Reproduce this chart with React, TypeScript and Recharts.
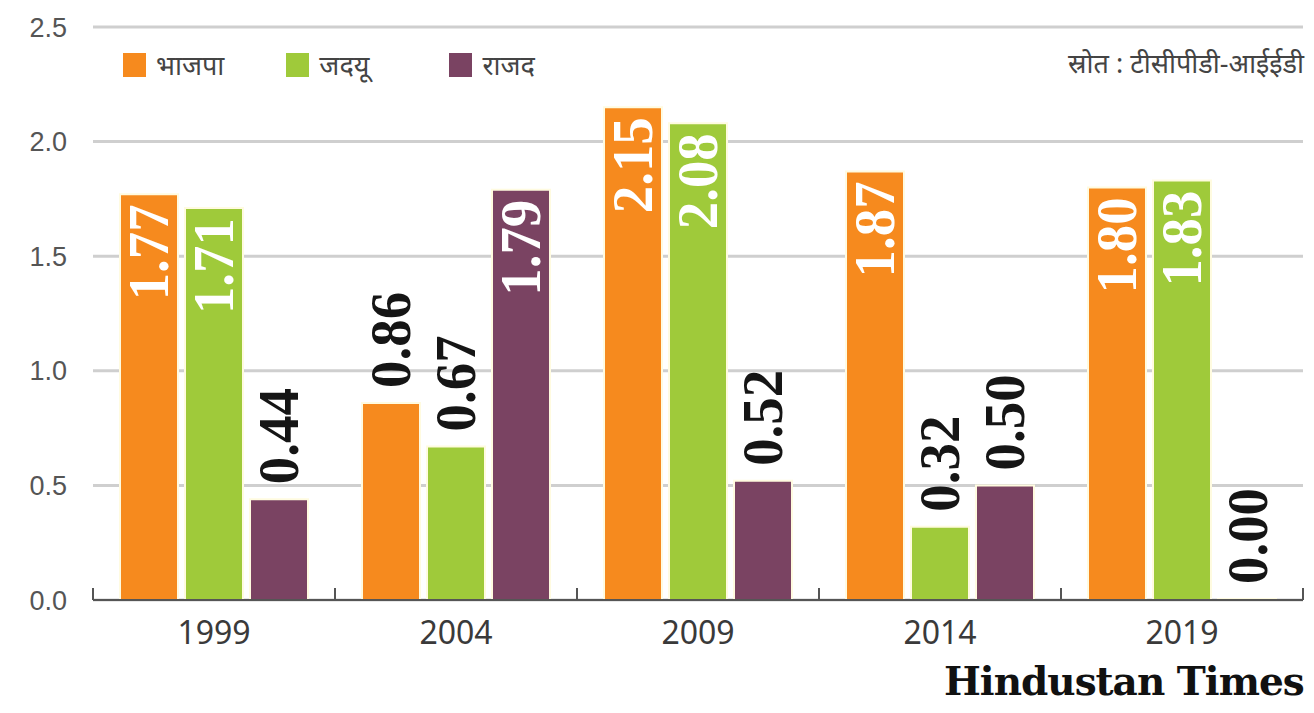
import React from "react";
import { Bar, BarChart, CartesianGrid, LabelList, XAxis, YAxis } from "recharts";

const years = ["1999", "2004", "2009", "2014", "2019"];
const bjp = [1.77, 0.86, 2.15, 1.87, 1.8];
const jdu = [1.71, 0.67, 2.08, 0.32, 1.83];
const rjd = [0.44, 1.79, 0.52, 0.5, 0.0];
const yTicks = [0, 0.5, 1.0, 1.5, 2.0, 2.5];

const parties = [
  { key: "bjp", name: "भाजपा", color: "#F68A1E" },
  { key: "jdu", name: "जदयू", color: "#9FCA3A" },
  { key: "rjd", name: "राजद", color: "#7A4362" }
];

const data = years.map((year, i) => ({ year, bjp: bjp[i], jdu: jdu[i], rjd: rjd[i] }));

const devFont = "'Noto Sans', 'Noto Sans Devanagari', 'Lohit Devanagari', sans-serif";

function YearTick(props: any) {
  const { x, y, payload, index } = props;
  const half = payload && typeof payload.offset === "number" && payload.offset > 0 ? payload.offset : 121;
  return (
    <g>
      <line x1={x - half} x2={x - half} y1={y} y2={y - 12} stroke="#555" strokeWidth={2} />
      {index === years.length - 1 && (
        <line x1={x + half} x2={x + half} y1={y} y2={y - 12} stroke="#555" strokeWidth={2} />
      )}
      <text x={x} y={y + 44} textAnchor="middle" fill="#3a3a3a" fontSize={32} fontFamily="'Noto Sans', sans-serif">
        {payload.value}
      </text>
    </g>
  );
}

function ValueLabel(props: any) {
  const { x, y, width, value } = props;
  if (value == null) return null;
  const cx = x + width / 2;
  const inside = value >= 1.5;
  const ay = inside ? y + 10 : y - 15;
  return (
    <text
      x={cx}
      y={ay}
      transform={`rotate(-90 ${cx} ${ay})`}
      textAnchor={inside ? "end" : "start"}
      dominantBaseline="central"
      fill={inside ? "#ffffff" : "#151515"}
      fontFamily="'Liberation Serif', 'DejaVu Serif', serif"
      fontWeight="bold"
      fontSize={58}
      textLength={96}
      lengthAdjust="spacingAndGlyphs"
    >
      {Number(value).toFixed(2)}
    </text>
  );
}

function PartyLegend() {
  return (
    <div style={{ display: "flex", alignItems: "center", fontFamily: devFont, fontSize: 27, color: "#444" }}>
      {parties.map((p, i) => (
        <div key={p.key} style={{ display: "flex", alignItems: "center", marginRight: i === 0 ? 62 : 80 }}>
          <span style={{ display: "inline-block", width: 23, height: 24, background: p.color, marginRight: 10 }} />
          <span>{p.name}</span>
        </div>
      ))}
    </div>
  );
}

export default function App() {
  return (
    <div style={{ position: "absolute", left: 0, top: 0, width: 1314, height: 713, background: "#fff", overflow: "hidden" }}>
      <BarChart
        width={1314}
        height={713}
        data={data}
        margin={{ top: 27, right: 11, bottom: 0, left: 0 }}
        barCategoryGap={27}
        barGap={7}
      >
        <CartesianGrid vertical={false} stroke="#cfcfcf" strokeWidth={3} />
        <XAxis
          dataKey="year"
          height={113}
          tickLine={false}
          tickSize={0}
          tickMargin={0}
          axisLine={{ stroke: "#555", strokeWidth: 2 }}
          tick={<YearTick />}
          interval={0}
        />
        <YAxis
          width={93}
          domain={[0, 2.5]}
          ticks={yTicks}
          tickFormatter={(v: number) => v.toFixed(1)}
          axisLine={false}
          tickLine={false}
          tickMargin={20}
          tick={{ fill: "#555", fontSize: 27, fontFamily: "'Liberation Sans Narrow', 'Liberation Sans', sans-serif" }}
        />
        {parties.map((p) => (
          <Bar
            key={p.key}
            dataKey={p.key}
            name={p.name}
            fill={p.color}
            stroke="#FFFBE0"
            strokeWidth={2}
            minPointSize={p.key === "rjd" ? 1 : 0}
            isAnimationActive={false}
          >
            <LabelList dataKey={p.key} content={<ValueLabel />} />
          </Bar>
        ))}
      </BarChart>
      <div style={{ position: "absolute", left: 123, top: 46 }}>
        <PartyLegend />
      </div>
      <div
        style={{
          position: "absolute",
          right: 10,
          top: 44,
          fontFamily: devFont,
          fontSize: 27,
          color: "#444"
        }}
      >
        स्रोत : टीसीपीडी-आईईडी
      </div>
      <div
        style={{
          position: "absolute",
          left: 944,
          top: 658,
          fontFamily: "'DejaVu Serif', serif",
          fontWeight: "bold",
          fontSize: 39,
          color: "#111",
          whiteSpace: "nowrap",
          letterSpacing: -1
        }}
      >
        Hindustan Times
      </div>
    </div>
  );
}
